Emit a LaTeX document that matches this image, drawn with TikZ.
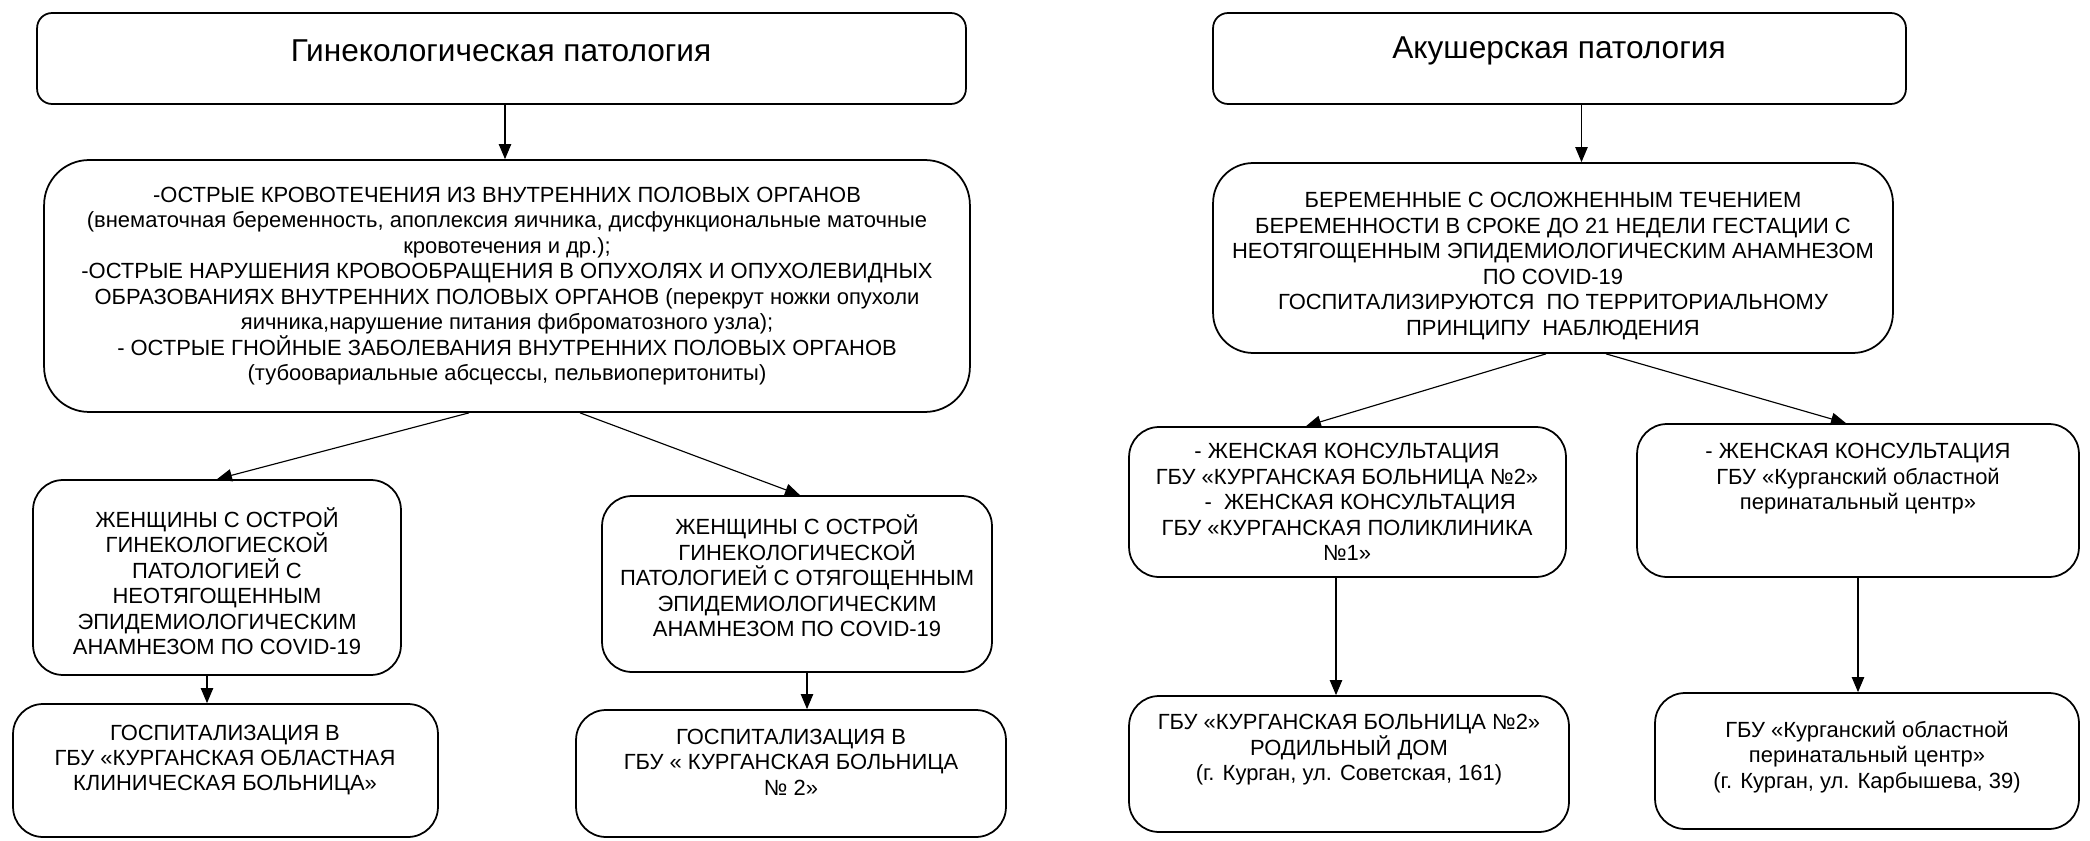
\documentclass[tikz,border=0pt]{standalone}
\usepackage{fontspec}
\setmainfont{Liberation Sans}
\usetikzlibrary{positioning,arrows.meta}

\begin{document}
\begin{tikzpicture}[x=0.02cm, y=-0.02cm,
  box/.style={draw, line width=1pt, rounded corners=0.6cm, inner sep=0pt},
  txt/.style={align=center, font=\fontsize{12.5}{14.5}\selectfont, inner sep=0pt},
  head/.style={font=\fontsize{18}{20}\selectfont, inner sep=0pt},
  edge/.style={draw, line width=0.65pt, -{Triangle[length=8.5pt,width=7pt]}}
]
\useasboundingbox (0,0) rectangle (2090,841);

% gynecology branch
\node[box, rounded corners=0.3cm, minimum width=18.58cm, minimum height=1.82cm] (gyn) at (501.5,58.5) {};
\node[head] (gyn-t) at (501,51) {Гинекологическая патология};
\node[box, rounded corners=0.9cm, minimum width=18.52cm, minimum height=5.04cm] (acute) at (507,286) {};
\node[txt] (acute-t) at (507,286) {-ОСТРЫЕ КРОВОТЕЧЕНИЯ ИЗ ВНУТРЕННИХ ПОЛОВЫХ ОРГАНОВ\\
  (внематочная беременность, апоплексия яичника, дисфункциональные маточные\\
  кровотечения и др.);\\
  -ОСТРЫЕ НАРУШЕНИЯ КРОВООБРАЩЕНИЯ В ОПУХОЛЯХ И ОПУХОЛЕВИДНЫХ\\
  ОБРАЗОВАНИЯХ ВНУТРЕННИХ ПОЛОВЫХ ОРГАНОВ (перекрут ножки опухоли\\
  яичника,нарушение питания фиброматозного узла);\\
  - ОСТРЫЕ ГНОЙНЫЕ ЗАБОЛЕВАНИЯ ВНУТРЕННИХ ПОЛОВЫХ ОРГАНОВ\\
  (тубоовариальные абсцессы, пельвиоперитониты)};
\node[box, minimum width=7.36cm, minimum height=3.90cm] (clean) at (217,577.5) {};
\node[txt] (clean-t) at (217,581) {ЖЕНЩИНЫ С ОСТРОЙ\\ ГИНЕКОЛОГИЕСКОЙ\\ ПАТОЛОГИЕЙ С\\
  НЕОТЯГОЩЕННЫМ\\ ЭПИДЕМИОЛОГИЧЕСКИМ\\ АНАМНЕЗОМ ПО COVID-19};
\node[box, minimum width=7.80cm, minimum height=3.52cm] (risk) at (797,584) {};
\node[txt] (risk-t) at (797,576) {ЖЕНЩИНЫ С ОСТРОЙ\\ ГИНЕКОЛОГИЧЕСКОЙ\\ ПАТОЛОГИЕЙ С ОТЯГОЩЕННЫМ\\
  ЭПИДЕМИОЛОГИЧЕСКИМ\\ АНАМНЕЗОМ ПО COVID-19};
\node[box, minimum width=8.50cm, minimum height=2.66cm] (regional) at (225.5,770.5) {};
\node[txt] (regional-t) at (225,760) {ГОСПИТАЛИЗАЦИЯ В\\ ГБУ «КУРГАНСКАЯ ОБЛАСТНАЯ\\ КЛИНИЧЕСКАЯ БОЛЬНИЦА»};
\node[box, minimum width=8.60cm, minimum height=2.54cm] (city) at (791,773.5) {};
\node[txt] (city-t) at (791,762) {ГОСПИТАЛИЗАЦИЯ В\\ ГБУ « КУРГАНСКАЯ БОЛЬНИЦА\\ № 2»};

% obstetrics branch
\node[box, rounded corners=0.3cm, minimum width=13.86cm, minimum height=1.82cm] (obst) at (1559.5,58.5) {};
\node[head] (obst-t) at (1559,51) {Акушерская патология};
\node[box, rounded corners=0.8cm, minimum width=13.60cm, minimum height=3.80cm] (preg) at (1553,258) {};
\node[txt] (preg-t) at (1553,266) {БЕРЕМЕННЫЕ С ОСЛОЖНЕННЫМ ТЕЧЕНИЕМ\\
  БЕРЕМЕННОСТИ В СРОКЕ ДО 21 НЕДЕЛИ ГЕСТАЦИИ С\\
  НЕОТЯГОЩЕННЫМ ЭПИДЕМИОЛОГИЧЕСКИМ АНАМНЕЗОМ\\
  ПО COVID-19\\
  ГОСПИТАЛИЗИРУЮТСЯ ~ПО ТЕРРИТОРИАЛЬНОМУ\\
  ПРИНЦИПУ ~НАБЛЮДЕНИЯ};
\node[box, minimum width=8.74cm, minimum height=3.00cm] (consult) at (1347.5,502) {};
\node[txt] (consult-t) at (1347,502) {- ЖЕНСКАЯ КОНСУЛЬТАЦИЯ\\ ГБУ «КУРГАНСКАЯ БОЛЬНИЦА №2»\\
  \hspace*{1.2em}- ~ЖЕНСКАЯ КОНСУЛЬТАЦИЯ\\ ГБУ «КУРГАНСКАЯ ПОЛИКЛИНИКА\\ №1»};
\node[box, minimum width=8.84cm, minimum height=3.06cm] (perinat) at (1858,500.5) {};
\node[txt] (perinat-t) at (1858,479) {- ЖЕНСКАЯ КОНСУЛЬТАЦИЯ\\ ГБУ «Курганский областной\\ перинатальный центр»};
\node[box, minimum width=8.80cm, minimum height=2.72cm] (maternity) at (1349,764) {};
\node[txt] (maternity-t) at (1349,750) {ГБУ «КУРГАНСКАЯ БОЛЬНИЦА №2»\\ РОДИЛЬНЫЙ ДОМ\\ (г. Курган, ул. Советская, 161)};
\node[box, minimum width=8.48cm, minimum height=2.72cm] (center) at (1867,761) {};
\node[txt] (center-t) at (1867,757) {ГБУ «Курганский областной\\ перинатальный центр»\\ (г. Курган, ул. Карбышева, 39)};

% connectors
\draw[edge] ([xshift=0.07cm]gyn.south) -- ([xshift=0.07cm]gyn.south |- acute.north);
\draw[edge] ([xshift=-0.76cm]acute.south) -- (clean.north);
\draw[edge] ([xshift=1.46cm]acute.south) -- ([xshift=0.06cm]risk.north);
\draw[edge] ([xshift=-0.2cm]clean.south) -- ([xshift=-0.2cm]clean.south |- regional.north);
\draw[edge] ([xshift=0.2cm]risk.south) -- ([xshift=0.2cm]risk.south |- city.north);
\draw[edge] ([xshift=0.44cm]obst.south) -- ([xshift=0.44cm]obst.south |- preg.north);
\draw[edge] ([xshift=-0.14cm]preg.south) -- ([xshift=-0.83cm]consult.north);
\draw[edge] ([xshift=1.06cm]preg.south) -- ([xshift=-0.24cm]perinat.north);
\draw[edge] ([xshift=-0.23cm]consult.south) -- ([xshift=-0.23cm]consult.south |- maternity.north);
\draw[edge] (perinat.south) -- (perinat.south |- center.north);
\end{tikzpicture}
\end{document}
